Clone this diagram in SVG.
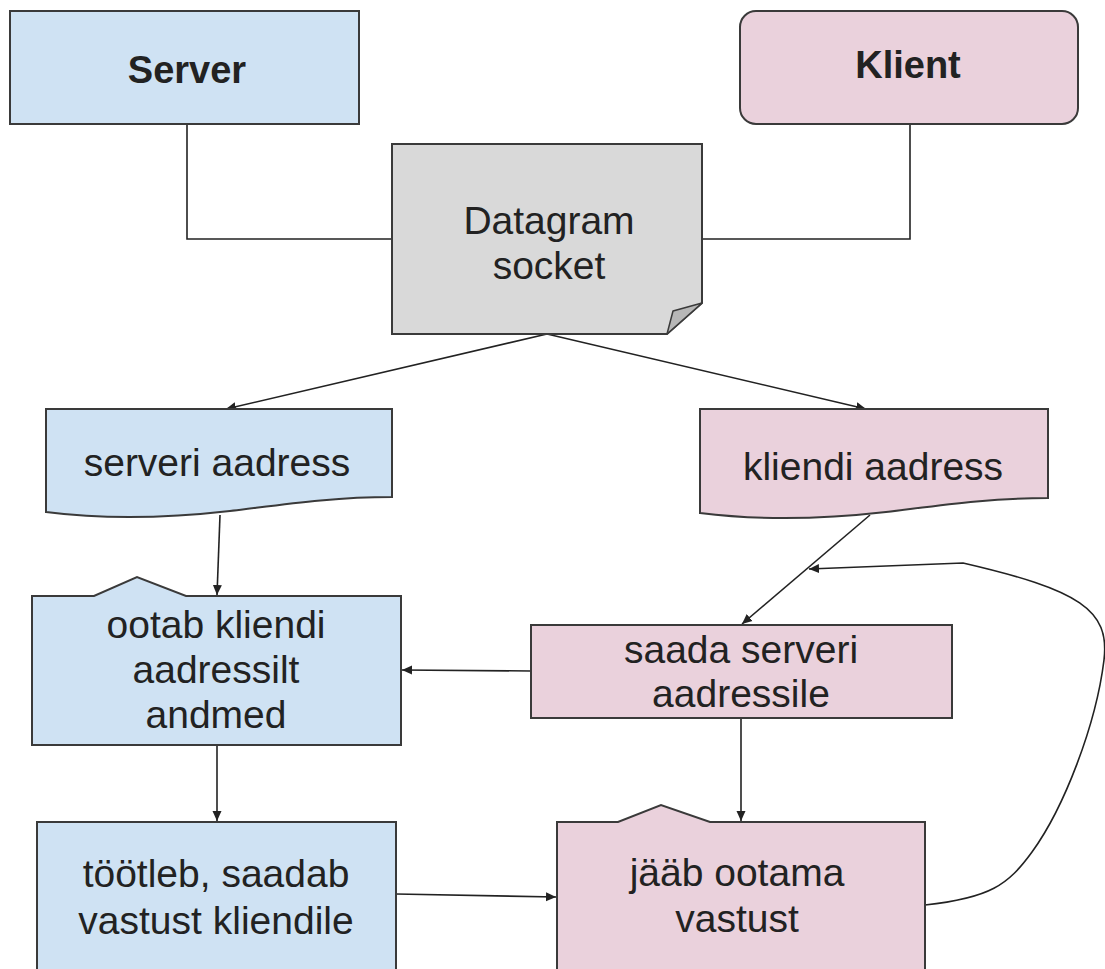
<svg xmlns="http://www.w3.org/2000/svg" width="1105" height="969" viewBox="0 0 1105 969">
  <style>
    .box { stroke: #3a3a3a; stroke-width: 2; stroke-linejoin: miter; }
    .srv { fill: #cfe2f3; }
    .cli { fill: #ead1dc; }
    .sock { fill: #d9d9d9; }
    .fold { fill: #b7b7b7; stroke: #3a3a3a; stroke-width: 1.5; stroke-linejoin: round; }
    .lbl { font-family: "Liberation Sans", Arial, sans-serif; font-size: 39px; fill: #222; text-anchor: middle; }
    .bold { font-weight: bold; font-size: 38px; }
    .conn { fill: none; stroke: #222; stroke-width: 1.6; }
  </style>
  <defs>
    <marker id="arrow" viewBox="0 0 10 10" refX="10" refY="5" markerWidth="10" markerHeight="10" markerUnits="userSpaceOnUse" orient="auto">
      <path d="M0,0.5 L10,5 L0,9.5 Z" fill="#222"/>
    </marker>
  </defs>

  <rect width="1105" height="969" fill="#ffffff"/>

  <!-- connectors -->
  <g id="connectors">
    <polyline class="conn" points="187,124 187,239 392,239"/>
    <polyline class="conn" points="910,124 910,239 702,239"/>
    <line class="conn" x1="547" y1="334" x2="226" y2="409" marker-end="url(#arrow)"/>
    <line class="conn" x1="547" y1="334" x2="866" y2="409" marker-end="url(#arrow)"/>
    <line class="conn" x1="220" y1="515" x2="217" y2="595" marker-end="url(#arrow)"/>
    <line class="conn" x1="870" y1="515" x2="742" y2="624" marker-end="url(#arrow)"/>
    <line class="conn" x1="531" y1="671" x2="402" y2="670" marker-end="url(#arrow)"/>
    <line class="conn" x1="217" y1="745" x2="217" y2="821" marker-end="url(#arrow)"/>
    <line class="conn" x1="741" y1="718" x2="741" y2="821" marker-end="url(#arrow)"/>
    <line class="conn" x1="396" y1="894" x2="556" y2="897" marker-end="url(#arrow)"/>
    <!-- loop back from the waiting step to the send step -->
    <path class="conn" d="M925,905 C990,898 1008,885 1032,852 C1064,808 1096,725 1104,660 C1110,610 1080,590 963,563 L809,569" marker-end="url(#arrow)"/>
  </g>

  <g id="server">
    <rect class="box srv" x="10" y="11" width="349" height="113"/>
    <text class="lbl bold" x="187" y="83">Server</text>
  </g>

  <g id="klient">
    <rect class="box cli" x="740" y="11" width="338" height="113" rx="16" ry="16"/>
    <text class="lbl bold" x="908" y="78">Klient</text>
  </g>

  <g id="datagram-socket">
    <path class="box sock" d="M392,144 H702 V303 L667,334 H392 Z"/>
    <path class="fold" d="M702,303 L673,311 L667,334 Z"/>
    <text class="lbl" x="549" y="234">Datagram</text>
    <text class="lbl" x="549" y="279">socket</text>
  </g>

  <g id="serveri-aadress">
    <path class="box srv" d="M46,409 H392 V497 C330,497 280,505 230,511 C160,519 100,519 46,512 Z"/>
    <text class="lbl" x="217" y="476">serveri aadress</text>
  </g>

  <g id="kliendi-aadress">
    <path class="box cli" d="M700,409 H1048 V498 C986,498 936,506 886,512 C816,520 756,520 700,513 Z"/>
    <text class="lbl" x="873" y="480">kliendi aadress</text>
  </g>

  <g id="ootab">
    <path class="box srv" d="M32,596 H94 L137,577 L186,596 H401 V745 H32 Z"/>
    <text class="lbl" x="216" y="638">ootab kliendi</text>
    <text class="lbl" x="216" y="683">aadressilt</text>
    <text class="lbl" x="216" y="728">andmed</text>
  </g>

  <g id="saada">
    <rect class="box cli" x="531" y="625" width="421" height="93"/>
    <text class="lbl" x="741" y="663">saada serveri</text>
    <text class="lbl" x="741" y="707">aadressile</text>
  </g>

  <g id="tootleb">
    <rect class="box srv" x="37" y="822" width="359" height="160"/>
    <text class="lbl" x="216" y="887">töötleb, saadab</text>
    <text class="lbl" x="216" y="934">vastust kliendile</text>
  </g>

  <g id="jaab-ootama">
    <path class="box cli" d="M557,822 H618 L661,805 L710,822 H925 V985 H557 Z"/>
    <text class="lbl" x="737" y="886">jääb ootama</text>
    <text class="lbl" x="737" y="932">vastust</text>
  </g>
</svg>
